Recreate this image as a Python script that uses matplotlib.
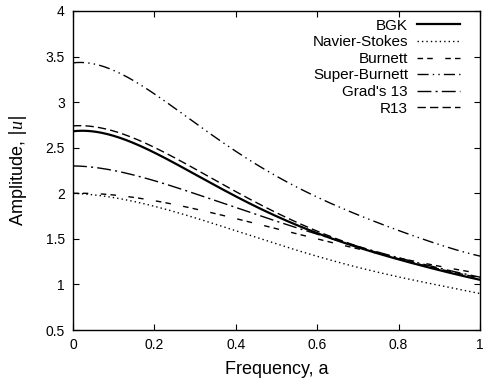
import numpy as np
import matplotlib
matplotlib.use("Agg")
import matplotlib.pyplot as plt

plt.rcParams['font.family'] = ['Liberation Sans', 'DejaVu Sans']
plt.rcParams['mathtext.fontset'] = 'custom'
plt.rcParams['mathtext.it'] = 'Liberation Serif:italic'

freq = [0.0, 0.1, 0.2, 0.3, 0.4, 0.5, 0.6, 0.7, 0.8, 0.9, 1.0]
bgk = [2.68, 2.63, 2.45, 2.20, 1.97, 1.75, 1.56, 1.41, 1.27, 1.16, 1.05]
navier_stokes = [2.00, 1.95, 1.86, 1.73, 1.59, 1.44, 1.31, 1.19, 1.08, 0.99, 0.90]
burnett = [2.00, 1.98, 1.92, 1.83, 1.72, 1.61, 1.50, 1.39, 1.29, 1.20, 1.12]
super_burnett = [3.43, 3.35, 3.09, 2.77, 2.46, 2.19, 1.96, 1.76, 1.59, 1.44, 1.31]
grad13 = [2.30, 2.25, 2.14, 1.99, 1.85, 1.69, 1.55, 1.42, 1.29, 1.18, 1.08]
r13 = [2.74, 2.68, 2.51, 2.26, 2.02, 1.79, 1.58, 1.42, 1.28, 1.17, 1.07]

labels = ["BGK", "Navier-Stokes", "Burnett", "Super-Burnett", "Grad's 13", "R13"]
series = [bgk, navier_stokes, burnett, super_burnett, grad13, r13]
styles = [
    dict(linestyle='-', lw=1.6),
    dict(linestyle=(0, (1, 2.2)), lw=1.0),
    dict(linestyle=(0, (4, 3, 4, 9)), lw=1.0),
    dict(linestyle=(0, (8, 3, 1, 3, 1, 3)), lw=1.0),
    dict(linestyle=(0, (10, 3, 1.5, 3)), lw=1.0),
    dict(linestyle=(0, (6, 3)), lw=1.0),
]

fig = plt.figure(figsize=(4.84, 3.78), dpi=100)
ax = fig.add_axes([73/484, 1-330/378, (480-73)/484, (330-11)/378])

xs = np.linspace(0, 1, 201)
for lab, ys, st in zip(labels, series, styles):
    coef = np.polyfit(freq, ys, 5)
    ax.plot(xs, np.polyval(coef, xs), color='black', label=lab, **st)

ax.set_xlim(0, 1)
ax.set_ylim(0.5, 4)
ax.set_xticks([0, 0.2, 0.4, 0.6, 0.8, 1])
ax.set_xticklabels(['0', '0.2', '0.4', '0.6', '0.8', '1'])
ax.set_yticks([0.5, 1, 1.5, 2, 2.5, 3, 3.5, 4])
ax.set_yticklabels(['0.5', '1', '1.5', '2', '2.5', '3', '3.5', '4'])
ax.tick_params(direction='in', top=True, right=True, length=4, width=0.8, labelsize=10, pad=6)
for s in ax.spines.values():
    s.set_linewidth(1.0)

ax.set_xlabel("Frequency, a", fontsize=13, labelpad=6)
ax.set_ylabel("Amplitude, $|u|$", fontsize=13, labelpad=12)

leg = ax.legend(loc='upper right', bbox_to_anchor=(0.951, 0.976), frameon=False,
                markerfirst=False, fontsize=11, handlelength=2.8, handletextpad=0.6,
                labelspacing=0.17, borderaxespad=0, borderpad=0, alignment='right')
for t in leg.get_texts():
    t.set_ha('right')
leg._legend_box.align = 'right'

fig.savefig('out.png', dpi=100)
